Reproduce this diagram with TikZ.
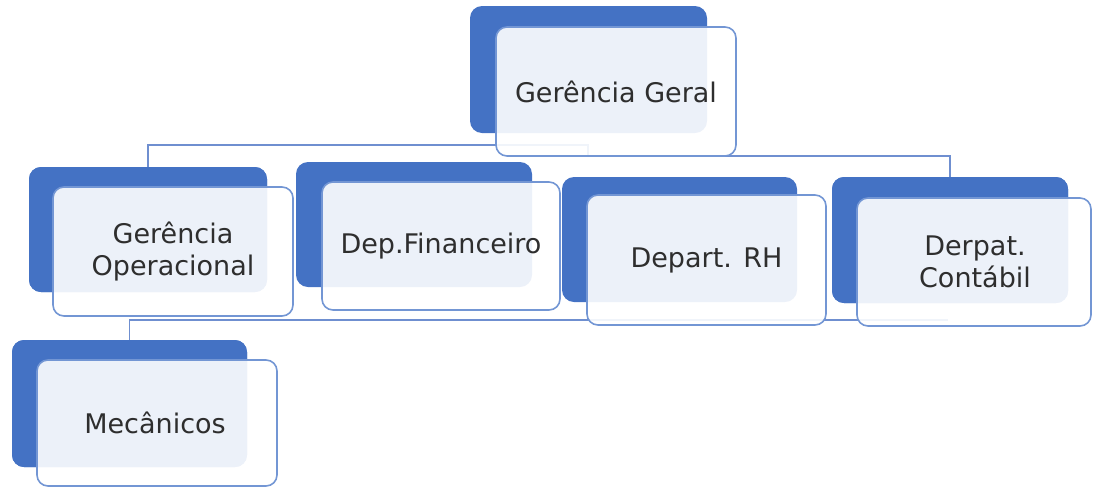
\documentclass[tikz,border=0pt]{standalone}
\usepackage{fontspec}
\setmainfont{DejaVu Sans}
\definecolor{backblue}{HTML}{4472C4}
\definecolor{edgeblue}{HTML}{7396D4}
\definecolor{lineblue}{HTML}{6F8FD0}
\definecolor{txt}{HTML}{2E2E2E}
\tikzset{
  backbox/.style={draw=none, fill=backblue, rounded corners=12pt, inner sep=0pt},
  frontbox/.style={draw=edgeblue, line width=1.6pt, fill=white, fill opacity=0.9, text opacity=1,
    rounded corners=11pt, inner sep=0pt, text=txt, align=center,
    font=\fontsize{27}{32}\selectfont},
  conn/.style={draw=lineblue, line width=1.7pt}
}
\begin{document}
\begin{tikzpicture}[x=1pt,y=-1pt]
\useasboundingbox (0,0) rectangle (1093,488);
% junction coordinates
\coordinate (j1) at (588,145);
\coordinate (j2) at (950,156);
\coordinate (j3) at (948,320);
% back rectangles positions (needed for connectors)
\node[backbox, minimum width=238pt, minimum height=125pt] (gob) at (148,229.5) {};
\node[backbox, minimum width=236pt, minimum height=126pt] (dcb) at (950,240) {};
\node[backbox, minimum width=235pt, minimum height=127pt] (meb) at (129.5,403.5) {};
% connectors
\draw[conn] (gob.north) |- (j1) |- (j2) -- (dcb.north);
\draw[conn] (meb.north) |- (j3);
% Gerencia Geral
\node[backbox, minimum width=237pt, minimum height=127pt] (ggb) at (588.5,69.5) {};
\node[frontbox, minimum width=240pt, minimum height=129pt] (gg) at (616,91.5) {Gerência Geral};
% Gerencia Operacional
\node[backbox, minimum width=238pt, minimum height=125pt] at (gob) {};
\node[frontbox, minimum width=240pt, minimum height=129pt] (go) at (173,251.5) {Gerência\\Operacional};
% Dep. Financeiro
\node[backbox, minimum width=236pt, minimum height=125pt] (dfb) at (414,224.5) {};
\node[frontbox, minimum width=238pt, minimum height=128pt] (df) at (441,246) {Dep.Financeiro};
% Depart. RH
\node[backbox, minimum width=235pt, minimum height=125pt] (rhb) at (679.5,239.5) {};
\node[frontbox, minimum width=239pt, minimum height=130pt] (rh) at (706.5,260) {Depart. RH};
% Derpat. Contabil
\node[backbox, minimum width=236pt, minimum height=126pt] at (dcb) {};
\node[frontbox, minimum width=234pt, minimum height=128pt] (dc) at (974,262) {\hspace*{2pt}Derpat.\\\hspace*{2pt}Contábil};
% Mecanicos
\node[backbox, minimum width=235pt, minimum height=127pt] at (meb) {};
\node[frontbox, minimum width=240pt, minimum height=126pt] (me) at (157,423) {Mecânicos\hspace*{4pt}};
\end{tikzpicture}
\end{document}
